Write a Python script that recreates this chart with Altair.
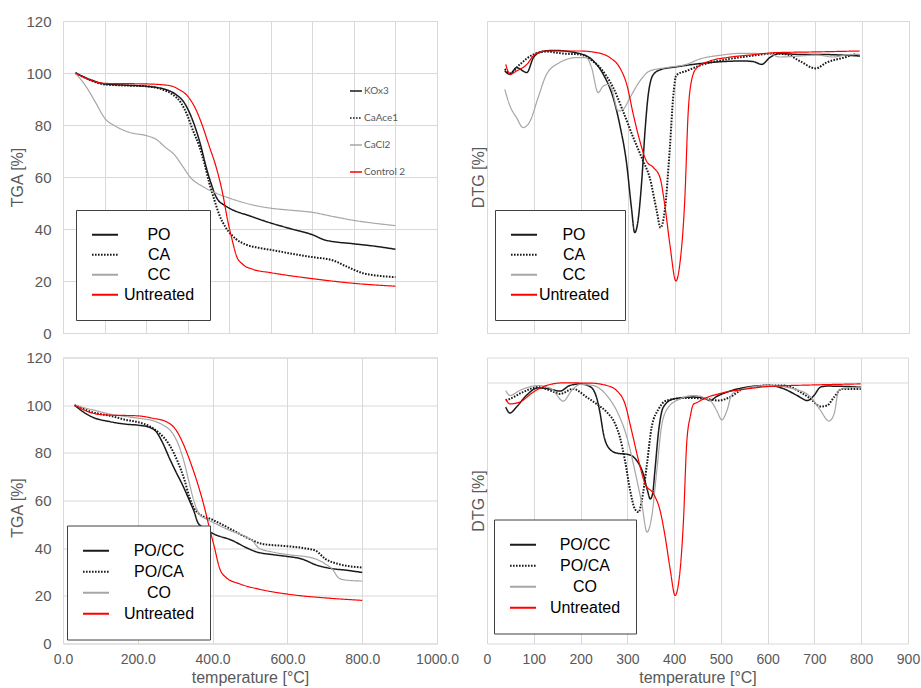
import altair as alt
import pandas as pd

FONT = "Liberation Sans"
GRAY_TXT = "#595959"
GRID = "#d9d9d9"

# ---------------- series names ----------------
names_top = ["PO", "CA", "CC", "Untreated"]
alias_top = ["KOx3", "CaAce1", "CaCl2", "Control 2"]
names_bot = ["PO/CC", "PO/CA", "CO", "Untreated"]

COLORS = ["#1a1a1a", "#1a1a1a", "#a6a6a6", "#ff0000"]
DASHES = [[1, 0], [1.6, 1.4], [1, 0], [1, 0]]

# ---------------- top-left: TGA ----------------
tga1_po_t = [30, 70, 100, 150, 200, 248, 272, 292, 308, 320, 332, 344, 356, 368, 376, 384, 400, 450, 500, 550, 600, 630, 700, 750, 800]
tga1_po_v = [100, 97.2, 95.8, 95.3, 94.9, 93.6, 91.7, 88.5, 83.4, 78.2, 71.8, 64.1, 57.7, 52.5, 50.6, 49.6, 48.0, 45.0, 42.3, 40.0, 37.8, 35.8, 34.3, 33.4, 32.2]
tga1_ca_t = [30, 65, 100, 150, 200, 240, 264, 284, 300, 312, 328, 340, 352, 364, 376, 392, 416, 440, 470, 500, 550, 600, 650, 682, 722, 760, 800]
tga1_ca_v = [100, 97.3, 95.6, 95.2, 94.9, 93.6, 91.7, 88.5, 83.4, 78.2, 71.8, 65.4, 57.7, 51.3, 45.5, 40.5, 36.2, 34.0, 32.8, 32.0, 30.5, 29.2, 27.9, 25.6, 23.0, 22.0, 21.5]
tga1_cc_t = [30, 55, 79, 100, 127, 159, 201, 223, 248, 268, 288, 308, 336, 368, 400, 450, 500, 550, 600, 650, 700, 750, 800]
tga1_cc_v = [100, 94.9, 88.5, 82.7, 79.5, 77.2, 75.9, 74.6, 71.2, 68.6, 64.1, 59.6, 56.4, 53.8, 51.9, 49.5, 48.0, 47.2, 46.4, 44.8, 43.3, 42.2, 41.3]
tga1_un_t = [30, 100, 200, 255, 280, 300, 320, 336, 352, 368, 384, 396, 406, 418, 432, 457, 500, 600, 700, 800]
tga1_un_v = [100, 96.0, 95.8, 95.2, 93.6, 91.1, 85.9, 79.5, 71.8, 64.1, 53.8, 43.5, 36.5, 29.4, 26.5, 24.5, 23.2, 20.9, 19.1, 18.0]

# ---------------- top-right: DTG ----------------
dtg1_po_t = [38, 49, 63, 85, 99, 117, 141, 198, 227, 248, 269, 283, 298, 308, 315, 322, 330, 337, 344, 355, 372, 402, 454, 502, 546, 568, 586, 603, 624, 667, 703, 753, 795]
dtg1_po_v = [-1.1, -1.27, -0.93, -1.18, -0.43, -0.13, -0.07, -0.23, -0.6, -1.27, -2.43, -3.77, -5.77, -7.93, -9.18, -8.6, -6.6, -4.1, -2.27, -1.27, -1.02, -0.9, -0.73, -0.63, -0.6, -0.63, -0.77, -0.43, -0.23, -0.27, -0.27, -0.3, -0.35]
dtg1_ca_t = [38, 49, 70, 99, 127, 163, 198, 220, 241, 269, 290, 312, 333, 347, 362, 370, 379, 390, 397, 404, 425, 461, 511, 561, 610, 639, 667, 701, 724, 766, 784, 795]
dtg1_ca_v = [-1.0, -1.2, -0.77, -0.27, -0.13, -0.23, -0.27, -0.52, -0.93, -1.93, -3.1, -4.43, -5.6, -6.43, -8.1, -8.93, -8.1, -4.93, -2.43, -1.3, -1.1, -0.77, -0.52, -0.35, -0.23, -0.27, -0.6, -0.97, -0.68, -0.4, -0.27, -0.35]
dtg1_cc_t = [38, 49, 63, 77, 92, 109, 127, 155, 191, 212, 223, 237, 248, 259, 266, 280, 291, 305, 326, 347, 383, 425, 454, 502, 539, 602, 624, 667, 703, 738, 766, 795]
dtg1_cc_v = [-2.02, -2.85, -3.43, -3.93, -3.6, -2.43, -1.27, -0.68, -0.43, -0.43, -0.93, -2.18, -1.85, -1.77, -2.02, -3.1, -3.0, -2.43, -1.6, -1.1, -0.93, -0.77, -0.5, -0.3, -0.22, -0.23, -0.4, -0.35, -0.3, -0.4, -0.3, -0.27]
dtg1_un_t = [40, 49, 63, 85, 102, 127, 198, 234, 262, 283, 298, 312, 326, 340, 355, 369, 379, 390, 403, 411, 422, 429, 436, 447, 475, 511, 561, 618, 689, 795]
dtg1_un_v = [-0.77, -1.27, -1.1, -0.77, -0.27, -0.1, -0.1, -0.18, -0.43, -0.93, -1.77, -3.27, -4.6, -5.6, -5.93, -6.43, -7.77, -9.77, -11.6, -10.8, -7.43, -3.2, -1.6, -0.95, -0.6, -0.43, -0.3, -0.18, -0.15, -0.1]

# ---------------- bottom-left: TGA ----------------
tga2_pocc_t = [31, 53, 80, 125, 169, 202, 231, 249, 267, 285, 302, 320, 338, 351, 360, 373, 400, 453, 489, 516, 560, 601, 640, 676, 712, 760, 800]
tga2_pocc_v = [100, 97.3, 94.9, 93.1, 92.0, 91.6, 90.7, 88.9, 84.0, 77.6, 72.0, 66.4, 60.0, 55.1, 50.9, 48.8, 46.2, 43.2, 40.3, 38.5, 37.3, 36.5, 35.4, 33.0, 31.6, 30.7, 29.8]
tga2_poca_t = [31, 80, 125, 169, 205, 231, 258, 285, 307, 325, 338, 351, 364, 400, 445, 489, 533, 601, 649, 676, 702, 738, 800]
tga2_poca_v = [100, 97.0, 95.6, 93.8, 92.7, 91.2, 88.2, 83.2, 76.2, 68.5, 61.4, 56.5, 54.4, 51.9, 48.3, 44.6, 41.8, 40.8, 39.9, 38.9, 35.4, 33.3, 31.9]
tga2_co_t = [31, 80, 125, 169, 202, 240, 267, 293, 311, 325, 338, 351, 364, 382, 400, 445, 489, 507, 524, 560, 601, 667, 702, 720, 738, 756, 800]
tga2_co_v = [100, 98.0, 96.3, 95.2, 94.5, 93.5, 91.7, 88.2, 82.5, 75.5, 67.1, 59.3, 54.4, 52.3, 50.9, 47.5, 44.8, 43.0, 40.0, 38.4, 37.3, 35.9, 33.3, 31.2, 27.4, 26.6, 26.2]
tga2_un_t = [31, 80, 113, 202, 240, 276, 302, 325, 342, 360, 378, 391, 405, 418, 436, 471, 524, 601, 712, 800]
tga2_un_v = [100, 96.6, 95.9, 95.5, 94.5, 93.1, 89.6, 82.5, 75.5, 67.1, 57.2, 48.8, 40.3, 31.9, 27.7, 25.1, 22.8, 20.7, 19.0, 18.1]

# ---------------- bottom-right: DTG ----------------
dtg2_pocc_t = [40, 49, 63, 84, 109, 134, 156, 177, 199, 220, 234, 242, 249, 259, 277, 302, 320, 334, 343, 349, 354, 359, 367, 377, 399, 441, 463, 477, 491, 513, 556, 601, 635, 663, 685, 699, 713, 727, 799]
dtg2_pocc_v = [-1.23, -1.53, -1.23, -0.65, -0.27, -0.32, -0.43, -0.15, -0.07, -0.2, -0.73, -1.57, -2.57, -3.23, -3.53, -3.6, -3.9, -4.57, -5.4, -5.82, -5.57, -4.4, -2.4, -1.23, -0.82, -0.73, -0.77, -0.9, -0.7, -0.48, -0.23, -0.15, -0.32, -0.65, -0.9, -0.65, -0.23, -0.18, -0.23]
dtg2_poca_t = [40, 49, 77, 109, 138, 156, 184, 213, 234, 256, 274, 284, 295, 306, 316, 324, 331, 342, 352, 367, 384, 427, 470, 495, 520, 548, 601, 635, 670, 692, 713, 727, 742, 759, 799]
dtg2_poca_v = [-0.9, -0.82, -0.48, -0.23, -0.43, -0.57, -0.32, -0.73, -1.07, -1.48, -2.07, -2.73, -3.9, -5.4, -6.32, -6.48, -5.9, -4.07, -2.23, -1.32, -0.9, -0.77, -0.82, -0.9, -0.73, -0.32, -0.15, -0.15, -0.48, -0.82, -1.2, -1.15, -0.73, -0.32, -0.32]
dtg2_co_t = [40, 49, 70, 109, 138, 163, 181, 199, 227, 256, 277, 299, 316, 331, 342, 352, 363, 374, 388, 413, 441, 477, 491, 502, 513, 524, 556, 601, 656, 692, 713, 731, 742, 752, 770, 799]
dtg2_co_v = [-0.4, -0.65, -0.4, -0.15, -0.32, -0.93, -0.4, -0.1, -0.15, -0.65, -1.4, -2.73, -4.4, -6.07, -7.48, -6.73, -4.4, -2.07, -1.23, -0.82, -0.65, -0.9, -1.4, -1.87, -1.4, -0.57, -0.27, -0.15, -0.32, -0.73, -1.4, -1.93, -1.57, -0.4, -0.27, -0.23]
dtg2_un_t = [40, 49, 70, 99, 127, 163, 220, 256, 277, 295, 309, 324, 338, 356, 370, 381, 392, 402, 412, 420, 427, 435, 441, 449, 463, 502, 556, 601, 701, 799]
dtg2_un_v = [-0.82, -1.07, -0.98, -0.48, -0.15, -0.02, -0.03, -0.15, -0.4, -1.07, -2.4, -3.9, -5.07, -5.57, -6.4, -7.73, -9.4, -10.65, -9.57, -6.9, -3.0, -1.65, -1.1, -1.0, -0.82, -0.53, -0.32, -0.2, -0.12, -0.07]


def make_df(names, series, aliases=None):
    rows = []
    for k, (name, (ts, vs)) in enumerate(zip(names, series)):
        for i, (t, v) in enumerate(zip(ts, vs)):
            row = {"series": name, "T": t, "v": v, "idx": i}
            if aliases:
                row["alias"] = aliases[k]
            rows.append(row)
    return pd.DataFrame(rows)


df_tl = make_df(names_top, [(tga1_po_t, tga1_po_v), (tga1_ca_t, tga1_ca_v), (tga1_cc_t, tga1_cc_v), (tga1_un_t, tga1_un_v)], alias_top)
df_tr = make_df(names_top, [(dtg1_po_t, dtg1_po_v), (dtg1_ca_t, dtg1_ca_v), (dtg1_cc_t, dtg1_cc_v), (dtg1_un_t, dtg1_un_v)])
df_bl = make_df(names_bot, [(tga2_pocc_t, tga2_pocc_v), (tga2_poca_t, tga2_poca_v), (tga2_co_t, tga2_co_v), (tga2_un_t, tga2_un_v)])
df_br = make_df(names_bot, [(dtg2_pocc_t, dtg2_pocc_v), (dtg2_poca_t, dtg2_poca_v), (dtg2_co_t, dtg2_co_v), (dtg2_un_t, dtg2_un_v)])


def box_legend(lx, ly, offset, row_h):
    return alt.Legend(
        title=None, orient="none", legendX=lx, legendY=ly,
        strokeColor="#404040", fillColor="white", padding=15,
        labelFontSize=16, labelFont=FONT, labelColor="black",
        labelAlign="center", labelOffset=offset, labelLimit=0,
        symbolType="stroke", symbolSize=676, symbolStrokeWidth=2,
        rowPadding=0, clipHeight=row_h,
    )


def width_enc(names):
    return {
        "condition": [
            {"test": f"datum.series == '{names[1]}'", "value": 2.0},
            {"test": f"datum.series == '{names[0]}'", "value": 1.5},
        ],
        "value": 1.2,
    }


def lines(df, names, xdom, ydom, xaxis, yaxis, legend):
    return alt.Chart(df).mark_line(interpolate="monotone").encode(
        x=alt.X("T:Q", scale=alt.Scale(domain=xdom, nice=False, zero=False), axis=xaxis),
        y=alt.Y("v:Q", scale=alt.Scale(domain=ydom, nice=False, zero=False), axis=yaxis),
        color=alt.Color("series:N", scale=alt.Scale(domain=names, range=COLORS), legend=legend),
        strokeDash=alt.StrokeDash("series:N", scale=alt.Scale(domain=names, range=DASHES), legend=legend),
        strokeWidth=width_enc(names),
    )


grid_x_900 = alt.Axis(values=list(range(0, 901, 100)), labels=False, title=None, grid=True)

# top-left
ax_tl_y = alt.Axis(values=list(range(0, 121, 20)), title="TGA [%]", labelFontSize=15,
                   labelPadding=12, titlePadding=0, grid=True)
tl_main = lines(df_tl, names_top, [0, 900], [0, 120], grid_x_900, ax_tl_y,
                box_legend(13, 189, 40, 19.7))
alias_legend = alt.Legend(
    title=None, orient="none", legendX=286, legendY=63, padding=0,
    labelFontSize=10, labelFont="Lato", labelColor=GRAY_TXT,
    symbolType="stroke", symbolSize=144, symbolStrokeWidth=1.5,
    labelOffset=1, rowPadding=15,
)
tl_alias = alt.Chart(df_tl).transform_filter("datum.idx == 0").mark_line().encode(
    x=alt.X("T:Q"),
    y=alt.Y("v:Q"),
    stroke=alt.Stroke("alias:N", scale=alt.Scale(domain=alias_top, range=COLORS), legend=alias_legend),
    strokeDash=alt.StrokeDash("alias:N", scale=alt.Scale(domain=alias_top, range=DASHES), legend=alias_legend),
)
tl = alt.layer(tl_main, tl_alias).resolve_scale(
    color="independent", stroke="independent", strokeDash="independent"
).resolve_legend(
    color="independent", stroke="independent", strokeDash="independent"
).properties(width=374, height=312)

# top-right
ax_tr_y = alt.Axis(labels=False, grid=False, title="DTG [%]", titlePadding=1)
tr = lines(df_tr, names_top, [0, 900], [-14.2, 1.4], grid_x_900, ax_tr_y,
           box_legend(8, 189, 36, 19.7)).properties(width=422, height=312)

# bottom-left
ax_bl_x = alt.Axis(values=list(range(0, 1001, 200)), format=".1f", labelFontSize=14,
                   labelPadding=9, title="temperature [°C]", titlePadding=3, grid=True)
ax_bl_y = alt.Axis(values=list(range(0, 121, 20)), title="TGA [%]", labelFontSize=15,
                   labelPadding=12, titlePadding=0, grid=True, titleY=150)
bl = lines(df_bl, names_bot, [0, 1000], [0, 120], ax_bl_x, ax_bl_y,
           box_legend(4, 168, 49, 20.3)).properties(width=374, height=286)

# bottom-right
ax_br_x = alt.Axis(values=list(range(0, 901, 100)), format="d", labelFontSize=14,
                   labelPadding=9, title="temperature [°C]", titlePadding=3, grid=True)
ax_br_y = alt.Axis(values=[0], labels=False, grid=True, title="DTG [%]", titlePadding=1)
br = lines(df_br, names_bot, [0, 900], [-13.05, 1.25], ax_br_x, ax_br_y,
           box_legend(7, 162, 48, 20.3)).properties(width=421, height=286)

RES = dict(color="independent", stroke="independent", strokeDash="independent")

chart = alt.concat(
    tl, tr, bl, br, columns=2, spacing={"row": 24.5, "column": 50}, bounds="flush"
).resolve_scale(**RES).resolve_legend(**RES).properties(
    padding={"left": 9, "top": 13, "right": 0, "bottom": 0}
).configure(font=FONT).configure_view(stroke=GRID, strokeWidth=1).configure_axis(
    gridColor=GRID, gridWidth=1, domain=False, ticks=False, labelFlush=False,
    labelColor=GRAY_TXT, titleColor=GRAY_TXT, labelFont=FONT, titleFont=FONT,
    titleFontWeight="normal", titleFontSize=16,
)

chart.save("out.html", embed_options={"renderer": "svg", "actions": False})
